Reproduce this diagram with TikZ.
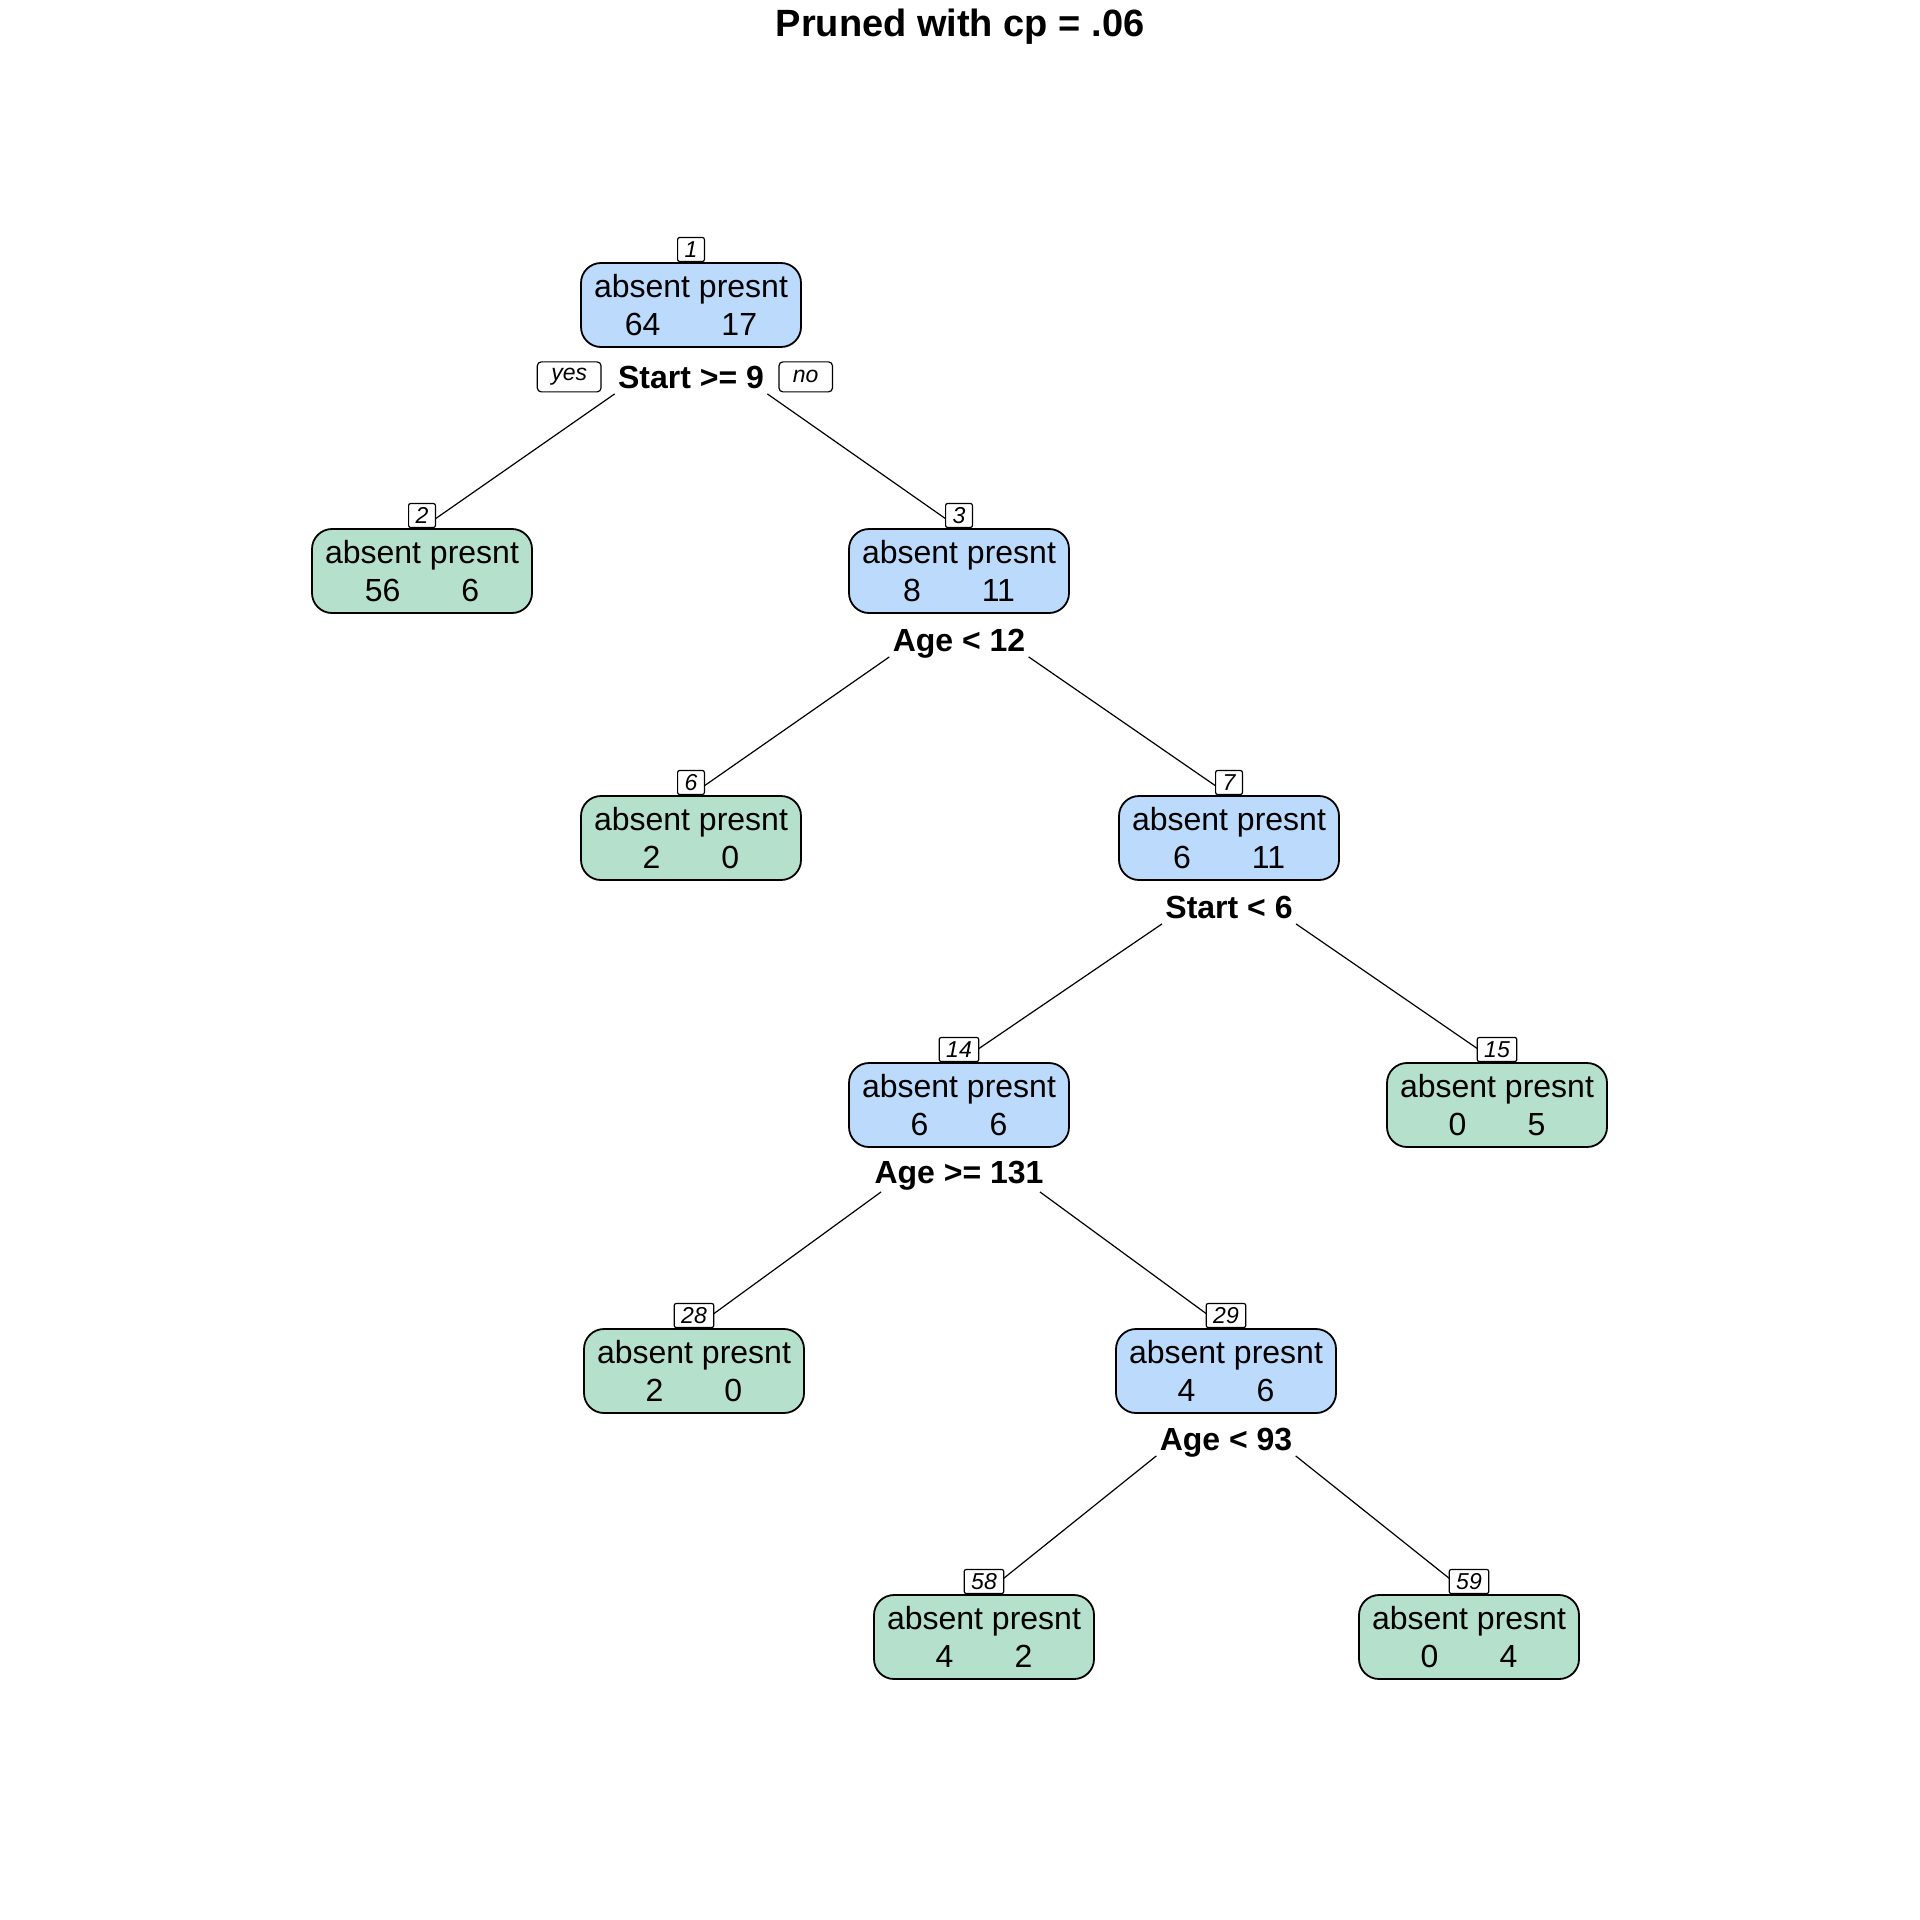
\documentclass[tikz,border=0pt]{standalone}
\usepackage{fontspec}
\setmainfont{Liberation Sans}
\usetikzlibrary{calc}
\definecolor{leafgreen}{RGB}{180,224,204}
\definecolor{splitblue}{RGB}{187,218,252}
% class counts of a node, spread under the two class names
\newcommand{\nodecounts}[2]{#1\hspace{30.5pt}#2}
\begin{document}
\begin{tikzpicture}[x=0.5pt,y=-0.5pt,
  treenode/.style={draw=black, line width=0.9pt, rounded corners=10pt,
    minimum width=110pt, minimum height=42pt, inner sep=0pt, align=center,
    font=\fontsize{16}{19}\selectfont},
  splitnode/.style={treenode, fill=splitblue},
  leafnode/.style={treenode, fill=leafgreen},
  nodeid/.style={draw=black, fill=white, line width=0.6pt, rounded corners=1pt,
    font=\fontsize{11.5}{12}\selectfont\itshape, inner xsep=3.5pt, inner ysep=0pt,
    minimum height=12pt, anchor=south},
  splitlab/.style={font=\fontsize{16}{19}\selectfont\bfseries, inner xsep=1.5pt,
    inner ysep=0pt, anchor=base},
  branch/.style={line width=0.6pt},
  yesno/.style={draw=black, fill=white, line width=0.6pt, rounded corners=2pt,
    font=\fontsize{11.5}{12}\selectfont\itshape, inner xsep=7pt, inner ysep=0pt,
    minimum height=15pt},
]
\useasboundingbox (0,0) rectangle (1920,1920);

% title
\node[font=\fontsize{19}{22}\selectfont\bfseries, anchor=base] (title) at (960,37) {Pruned with cp = .06};

% tree nodes
\node[splitnode] (n1)  at (691,305)  {absent presnt\\\nodecounts{64}{17}};
\node[leafnode]  (n2)  at (422,571)  {absent presnt\\\nodecounts{56}{6}};
\node[splitnode] (n3)  at (959,571)  {absent presnt\\\nodecounts{8}{11}};
\node[leafnode]  (n6)  at (691,838)  {absent presnt\\\nodecounts{2}{0}};
\node[splitnode] (n7)  at (1229,838) {absent presnt\\\nodecounts{6}{11}};
\node[splitnode] (n14) at (959,1105) {absent presnt\\\nodecounts{6}{6}};
\node[leafnode]  (n15) at (1497,1105) {absent presnt\\\nodecounts{0}{5}};
\node[leafnode]  (n28) at (694,1371) {absent presnt\\\nodecounts{2}{0}};
\node[splitnode] (n29) at (1226,1371) {absent presnt\\\nodecounts{4}{6}};
\node[leafnode]  (n58) at (984,1637) {absent presnt\\\nodecounts{4}{2}};
\node[leafnode]  (n59) at (1469,1637) {absent presnt\\\nodecounts{0}{4}};

% split conditions
\node[splitlab] (s1)  at ($(n1.south)+(0,41)$)  {Start >= 9};
\node[splitlab] (s3)  at ($(n3.south)+(0,38)$)  {Age < 12};
\node[splitlab] (s7)  at ($(n7.south)+(0,38)$)  {Start < 6};
\node[splitlab] (s14) at ($(n14.south)+(0,36)$) {Age >= 131};
\node[splitlab] (s29) at ($(n29.south)+(0,37)$) {Age < 93};

% yes / no hints on the first split
\node[yesno, anchor=east] (yes) at ($(s1.west)+(-13,-1)$) {yes};
\node[yesno, anchor=west] (no)  at ($(s1.east)+(11,-1)$)  {no};

% branches
\draw[branch] ($(s1.base west)+(0,5)$)   -- (n2.north);
\draw[branch] ($(s1.base east)+(0,5)$)   -- (n3.north);
\draw[branch] ($(s3.base west)+(0,5)$)   -- (n6.north);
\draw[branch] ($(s3.base east)+(0,5)$)   -- (n7.north);
\draw[branch] ($(s7.base west)+(0,5)$)   -- (n14.north);
\draw[branch] ($(s7.base east)+(0,5)$)   -- (n15.north);
\draw[branch] ($(s14.base west)+(10,8)$) -- (n28.north);
\draw[branch] ($(s14.base east)+(-7,8)$) -- (n29.north);
\draw[branch] ($(s29.base west)+(0,5)$)  -- (n58.north);
\draw[branch] ($(s29.base east)+(0,5)$)  -- (n59.north);

% node numbers
\node[nodeid] (id1)  at (n1.north)  {1};
\node[nodeid] (id2)  at (n2.north)  {2};
\node[nodeid] (id3)  at (n3.north)  {3};
\node[nodeid] (id6)  at (n6.north)  {6};
\node[nodeid] (id7)  at (n7.north)  {7};
\node[nodeid] (id14) at (n14.north) {14};
\node[nodeid] (id15) at (n15.north) {15};
\node[nodeid] (id28) at (n28.north) {28};
\node[nodeid] (id29) at (n29.north) {29};
\node[nodeid] (id58) at (n58.north) {58};
\node[nodeid] (id59) at (n59.north) {59};
\end{tikzpicture}
\end{document}
